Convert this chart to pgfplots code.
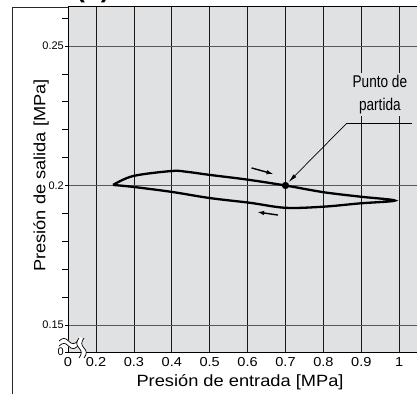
\documentclass[border=0pt]{standalone}
\usepackage{fontspec}
\setmainfont{Liberation Sans}
\newfontfamily\wide[FakeStretch=1.12]{Liberation Sans}
\newfontfamily\narrow[FakeStretch=0.8]{Liberation Sans}
\usepackage{pgfplots}
\pgfplotsset{compat=1.18}
\usetikzlibrary{arrows.meta}
\definecolor{bg}{RGB}{224,225,227}
\begin{document}
\begin{tikzpicture}[x=1pt,y=1pt]
\useasboundingbox (0,0) rectangle (417,394);
% outer frame
\draw[black!85, line width=0.9pt] (12,0) -- (12,387) -- (417,387);
\node[font=\bfseries\fontsize{26}{26}\selectfont, anchor=base] at (93,396.5) {(b)};
\begin{axis}[
  at={(68pt,42pt)}, anchor=south west,
  scale only axis, width=349pt, height=345pt,
  xmin=0.1261, xmax=1.047, ymin=0.1403, ymax=0.264,
  axis background/.style={fill=bg},
  axis line style={black, line width=1pt},
  xtick={0.1261,0.2,0.3,0.4,0.5,0.6,0.7,0.8,0.9,1},
  xticklabels={0,0.2,0.3,0.4,0.5,0.6,0.7,0.8,0.9,1},
  ytick={0.1403,0.15,0.2,0.25},
  yticklabels={0,0.15,0.2,0.25},
  minor ytick={0.16,0.17,0.18,0.19,0.21,0.22,0.23,0.24,0.26},
  xmajorgrids, ymajorgrids,
  major x grid style={black!90, line width=0.8pt},
  major y grid style={black!65, line width=0.9pt},
  xtick style={draw=none},
  ytick style={black, line width=0.7pt},
  tick align=outside,
  major tick length=3pt, minor tick length=6pt,
  x tick label style={font=\wide\fontsize{13}{13}\selectfont, inner sep=2pt},
  y tick label style={font=\fontsize{11}{11}\selectfont, inner sep=1pt},
  xlabel={Presión de entrada [MPa]},
  ylabel={Presión de salida [MPa]},
  xlabel style={font=\wide\fontsize{16.3}{16.3}\selectfont, at={(rel axis cs:0.493,-0.087)}, anchor=center},
  ylabel style={font=\wide\fontsize{16.3}{16.3}\selectfont, at={(rel axis cs:-0.077,0.5116)}, anchor=center},
]
\addplot[black, line width=2.3pt, smooth, tension=0.55] coordinates {
 (0.245,0.2002) (0.298,0.2034) (0.4,0.2052) (0.44,0.2049) (0.5,0.2038)
 (0.6,0.2021) (0.7,0.2) (0.8,0.1976) (0.897,0.1960) (0.989,0.1946)
 (0.897,0.1936) (0.8,0.1924) (0.7,0.1920) (0.606,0.1938) (0.5,0.1955)
 (0.4,0.1977) (0.298,0.1995) (0.245,0.2002)
};
\addplot[black, only marks, mark=*, mark size=3.4pt] coordinates {(0.7,0.2)};
% direction arrows
\addplot[black, line width=1.4pt, -{Latex[length=7pt,width=4.5pt]}] coordinates {(0.6104,0.2063) (0.6685,0.2041)};
\addplot[black, line width=1.4pt, -{Latex[length=7pt,width=4.5pt]}] coordinates {(0.68,0.1894) (0.625,0.1905)};
% callout
\node[fill=bg, inner sep=2pt, align=center, font=\narrow\fontsize{17}{23}\selectfont] at (axis cs:0.949,0.2327) {Punto de\\partida};
\addplot[black, line width=0.7pt] coordinates {(1.034,0.2224) (0.8623,0.2224)};
\addplot[black, line width=0.7pt, -{Latex[length=9pt,width=4pt]}] coordinates {(0.8623,0.2224) (0.708,0.2012)};
\end{axis}
% axis breaks
\draw[white, line width=4.5pt] (59,50.5) .. controls (63,54) and (65,54) .. (68.5,50.5) .. controls (72,47) and (74,47) .. (78,50.5);
\draw[black, line width=0.7pt] (59,53) .. controls (63,56.5) and (65,56.5) .. (68.5,53) .. controls (72,49.5) and (74,49.5) .. (78,53);
\draw[black, line width=0.7pt] (59,48) .. controls (63,51.5) and (65,51.5) .. (68.5,48) .. controls (72,44.5) and (74,44.5) .. (78,48);
\draw[white, line width=4.5pt] (81.5,36) .. controls (84.5,40) and (84.5,43) .. (81.5,46) .. controls (78.5,49) and (78.5,52) .. (81.5,56);
\draw[black, line width=0.7pt] (79,36) .. controls (82,40) and (82,43) .. (79,46) .. controls (76,49) and (76,52) .. (79,56);
\draw[black, line width=0.7pt] (84,36) .. controls (87,40) and (87,43) .. (84,46) .. controls (81,49) and (81,52) .. (84,56);
\end{tikzpicture}
\end{document}
